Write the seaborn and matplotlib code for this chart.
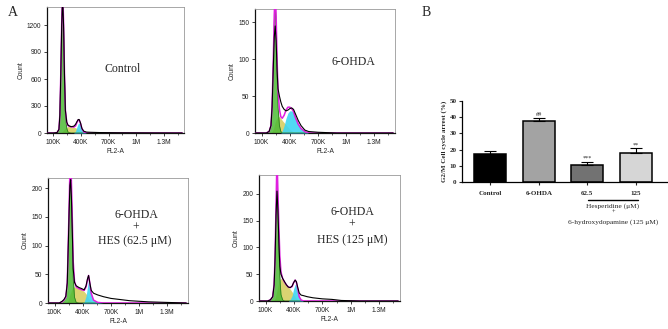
import numpy as np
import pandas as pd
import matplotlib
matplotlib.use("Agg")
import matplotlib.pyplot as plt
import seaborn as sns

# ---------------- data ----------------
# Panel 1: Control (FL2-A in K units)
x1 = [30, 100, 140, 160, 170, 180, 190, 200, 210, 220, 230, 245, 260, 290, 320, 340, 355, 370, 380, 395, 410, 430, 460, 500, 600, 700, 800, 1000, 1200, 1500]
count1 = [0, 0, 5, 40, 200, 650, 1200, 1500, 1200, 650, 250, 120, 85, 70, 75, 95, 125, 150, 150, 110, 50, 20, 10, 8, 5, 4, 3, 2, 1, 0]
g1_1 = [0, 0, 5, 40, 200, 650, 1200, 1600, 1200, 620, 200, 50, 8, 0, 0, 0, 0, 0, 0, 0, 0, 0, 0, 0, 0, 0, 0, 0, 0, 0]
s_1 = [0, 0, 0, 0, 0, 5, 12, 20, 30, 45, 55, 65, 72, 70, 65, 58, 50, 42, 35, 25, 12, 3, 0, 0, 0, 0, 0, 0, 0, 0]
g2_1 = [0, 0, 0, 0, 0, 0, 0, 0, 0, 0, 0, 0, 0, 0, 0, 20, 65, 105, 110, 80, 35, 10, 0, 0, 0, 0, 0, 0, 0, 0]

# Panel 2: 6-OHDA
x2 = [30, 150, 180, 200, 212, 225, 235, 245, 255, 265, 275, 290, 305, 320, 340, 360, 380, 400, 420, 440, 460, 490, 520, 560, 600, 700, 900, 1200, 1500]
count2 = [0, 0, 2, 10, 35, 90, 130, 145, 125, 85, 60, 50, 42, 36, 32, 30, 31, 33, 34, 32, 26, 17, 10, 4, 2, 1, 0, 0, 0]
g1_2 = [0, 0, 2, 10, 35, 95, 150, 180, 140, 80, 35, 10, 2, 0, 0, 0, 0, 0, 0, 0, 0, 0, 0, 0, 0, 0, 0, 0, 0]
s_2 = [0, 0, 0, 0, 2, 5, 10, 15, 18, 20, 22, 22, 20, 17, 14, 11, 8, 5, 3, 1, 0, 0, 0, 0, 0, 0, 0, 0, 0]
g2_2 = [0, 0, 0, 0, 0, 0, 0, 0, 0, 0, 0, 0, 0, 3, 10, 20, 27, 30, 30, 28, 21, 12, 6, 2, 0, 0, 0, 0, 0]

# Panel 3: 6-OHDA + HES 62.5 uM
x3 = [30, 150, 180, 200, 220, 235, 245, 255, 263, 271, 279, 288, 298, 312, 330, 360, 390, 415, 435, 450, 462, 475, 490, 515, 560, 620, 700, 800, 900, 1000, 1100, 1300, 1500]
count3 = [0, 0, 3, 6, 12, 35, 95, 160, 205, 215, 185, 130, 60, 36, 30, 27, 25, 23, 30, 42, 48, 35, 22, 17, 14, 11, 8, 6, 4, 3, 2, 1, 0]
g1_3 = [0, 0, 2, 5, 10, 33, 95, 160, 215, 235, 190, 125, 45, 10, 1, 0, 0, 0, 0, 0, 0, 0, 0, 0, 0, 0, 0, 0, 0, 0, 0, 0, 0]
s_3 = [0, 0, 0, 0, 0, 2, 5, 10, 15, 18, 22, 26, 28, 28, 27, 25, 23, 20, 16, 12, 8, 5, 2, 0, 0, 0, 0, 0, 0, 0, 0, 0, 0]
g2_3 = [0, 0, 0, 0, 0, 0, 0, 0, 0, 0, 0, 0, 0, 0, 0, 0, 0, 2, 12, 28, 40, 30, 15, 5, 1, 0, 0, 0, 0, 0, 0, 0, 0]

# Panel 4: 6-OHDA + HES 125 uM
x4 = [30, 120, 150, 175, 190, 200, 210, 220, 230, 240, 250, 262, 280, 300, 320, 340, 360, 380, 395, 412, 425, 440, 455, 475, 500, 540, 600, 700, 800, 900, 1100, 1500]
count4 = [0, 0, 2, 8, 30, 80, 160, 205, 170, 110, 65, 50, 42, 36, 30, 26, 25, 28, 34, 39, 36, 25, 15, 11, 10, 8, 6, 4, 3, 1, 0, 0]
g1_4 = [0, 0, 2, 8, 30, 80, 165, 250, 175, 105, 45, 12, 2, 0, 0, 0, 0, 0, 0, 0, 0, 0, 0, 0, 0, 0, 0, 0, 0, 0, 0, 0]
s_4 = [0, 0, 0, 0, 2, 5, 12, 20, 28, 35, 40, 42, 40, 35, 30, 26, 22, 17, 12, 8, 5, 2, 0, 0, 0, 0, 0, 0, 0, 0, 0, 0]
g2_4 = [0, 0, 0, 0, 0, 0, 0, 0, 0, 0, 0, 0, 0, 0, 0, 0, 3, 10, 22, 31, 30, 20, 8, 2, 0, 0, 0, 0, 0, 0, 0, 0]

x_ticks = [100, 400, 700, 1000, 1300]
x_tick_labels = ["100K", "400K", "700K", "1M", "1.3M"]

# Bar chart (panel B)
bar_groups = ["Control", "6-OHDA", "62.5", "125"]
bar_values = [17.5, 37.5, 10.8, 17.8]
bar_errors = [1.8, 2.2, 1.5, 3.0]
bar_marks = ["", "##", "***", "**"]
bar_colors = ["#000000", "#a3a3a3", "#727272", "#d6d6d6"]

# ---------------- figure ----------------
sns.set_theme(style="white")
plt.rcParams["font.family"] = ["Liberation Sans", "DejaVu Sans"]

W, H = 668, 329
fig = plt.figure(figsize=(W / 100, H / 100), dpi=100)


def rect(l, t, r, b):
    return [l / W, 1 - b / H, (r - l) / W, (b - t) / H]


def hist_panel(box, x, cnt, g1, s, g2, ymax, yticks, lines, text_pos):
    ax = fig.add_axes(rect(*box))
    x = np.asarray(x, float)
    g1 = np.asarray(g1, float)
    s = np.asarray(s, float)
    g2 = np.asarray(g2, float)
    ax.fill_between(x, 0, s, color="#d8cf63", alpha=0.9, lw=0, zorder=1)
    ax.fill_between(x, 0, g1, color="#4cbb35", alpha=0.85, lw=0, zorder=2)
    ax.fill_between(x, 0, g2, color="#3fd6f2", alpha=0.9, lw=0, zorder=3)
    ax.plot(x, g1, color="#2e7d1e", lw=0.6, zorder=4)
    fit = g1 + s + g2
    ax.plot(x, fit, color="#e01fe0", lw=1.1, zorder=5)
    df = pd.DataFrame({"FL2-A": x, "Count": cnt})
    sns.lineplot(data=df, x="FL2-A", y="Count", ax=ax, color="black", lw=0.8,
                 sort=False, zorder=6)
    ax.set_xlim(30, 1520)
    ax.set_ylim(0, ymax)
    ax.set_xticks(x_ticks)
    ax.set_xticklabels(x_tick_labels)
    ax.set_xticks([250, 550, 850, 1150, 1450], minor=True)
    ax.set_yticks(yticks)
    ax.tick_params(axis="both", which="major", labelsize=4.8, length=2.5,
                   width=0.6, pad=1.5, colors="#222222", direction="out")
    ax.tick_params(axis="x", which="minor", length=1.5, width=0.5,
                   direction="out", colors="#222222")
    ax.tick_params(bottom=True, left=True, which="both")
    ax.set_xlabel("FL2-A", fontsize=4.8, labelpad=1.5)
    ax.set_ylabel("Count", fontsize=4.8, labelpad=2)
    for side in ["top", "right"]:
        ax.spines[side].set_color("#999999")
        ax.spines[side].set_linewidth(0.6)
    for side in ["left", "bottom"]:
        ax.spines[side].set_color("#111111")
        ax.spines[side].set_linewidth(0.9)
    for (txt, px, py) in zip(lines, *text_pos):
        fig.text(px / W, 1 - py / H, txt, fontsize=8.5, ha="center", va="center",
                 family=["Liberation Serif", "DejaVu Serif"])
    return ax


hist_panel((47, 7, 184, 133), x1, count1, g1_1, s_1, g2_1, 1400,
           [0, 300, 600, 900, 1200], ["Control"], ([123], [69]))
hist_panel((255, 9, 395, 133), x2, count2, g1_2, s_2, g2_2, 168,
           [0, 50, 100, 150], ["6-OHDA"], ([353], [62]))
hist_panel((48, 178, 188, 303), x3, count3, g1_3, s_3, g2_3, 218,
           [0, 50, 100, 150, 200], ["6-OHDA", "+", "HES (62.5 \u03bcM)"],
           ([136, 136, 135], [215, 228, 241]))
hist_panel((259, 175, 400, 301), x4, count4, g1_4, s_4, g2_4, 235,
           [0, 50, 100, 150, 200], ["6-OHDA", "+", "HES (125 \u03bcM)"],
           ([352, 352, 352], [212, 225, 240]))

fig.text(8 / W, 1 - 13 / H, "A", fontsize=10, ha="left", va="center",
         family=["Liberation Serif", "DejaVu Serif"])
fig.text(422 / W, 1 - 12 / H, "B", fontsize=10, ha="left", va="center",
         family=["Liberation Serif", "DejaVu Serif"])

# ---------------- bar chart ----------------
serif = ["Liberation Serif", "DejaVu Serif"]
axb = fig.add_axes(rect(462, 101, 668, 182))
bdf = pd.DataFrame({"group": bar_groups, "value": bar_values})
sns.barplot(data=bdf, x="group", y="value", hue="group", palette=bar_colors,
            legend=False, ax=axb, width=0.66, edgecolor="black", linewidth=1.1,
            errorbar=None, saturation=1)
pos = np.arange(len(bar_groups))
axb.errorbar(pos, bar_values, yerr=[np.zeros(len(bar_errors)), bar_errors],
             fmt="none", ecolor="black", elinewidth=0.8, capsize=4, capthick=0.8,
             zorder=5)
for p, v, e, m in zip(pos, bar_values, bar_errors, bar_marks):
    if m:
        axb.text(p, v + e + 0.6, m, ha="center", va="bottom", fontsize=4.5,
                 family=serif)
axb.set_xlim(-0.58, 3.66)
axb.set_ylim(0, 50)
axb.set_yticks([0, 10, 20, 30, 40, 50])
axb.set_xlabel("")
axb.set_ylabel("G2/M Cell cycle arrest (%)", fontsize=5, fontweight="bold",
               family=serif, labelpad=2)
for lab in axb.get_xticklabels() + axb.get_yticklabels():
    lab.set_family(serif)
    lab.set_fontweight("bold")
axb.tick_params(axis="both", labelsize=5, length=2.5, width=0.8, pad=1.5,
                direction="out", bottom=True, left=True)
axb.tick_params(axis="x", pad=4)
sns.despine(ax=axb)
axb.spines["left"].set_linewidth(0.9)
axb.spines["bottom"].set_linewidth(0.9)
axb.spines["left"].set_color("black")
axb.spines["bottom"].set_color("black")

# bracket for hesperidine groups
fig.add_artist(plt.Line2D([588 / W, 638 / W], [1 - 200 / H, 1 - 200 / H],
                          color="black", lw=1.0))
fig.text(613 / W, 1 - 206 / H, "Hesperidine (\u03bcM)", fontsize=5.3,
         ha="center", va="center", family=serif)
fig.text(613 / W, 1 - 212.5 / H, "+", fontsize=4.5, ha="center", va="center",
         family=serif)
fig.text(613 / W, 1 - 222 / H, "6-hydroxydopamine (125 \u03bcM)", fontsize=5.3,
         ha="center", va="center", family=serif)

fig.savefig("out.png", dpi=100, facecolor="white")
